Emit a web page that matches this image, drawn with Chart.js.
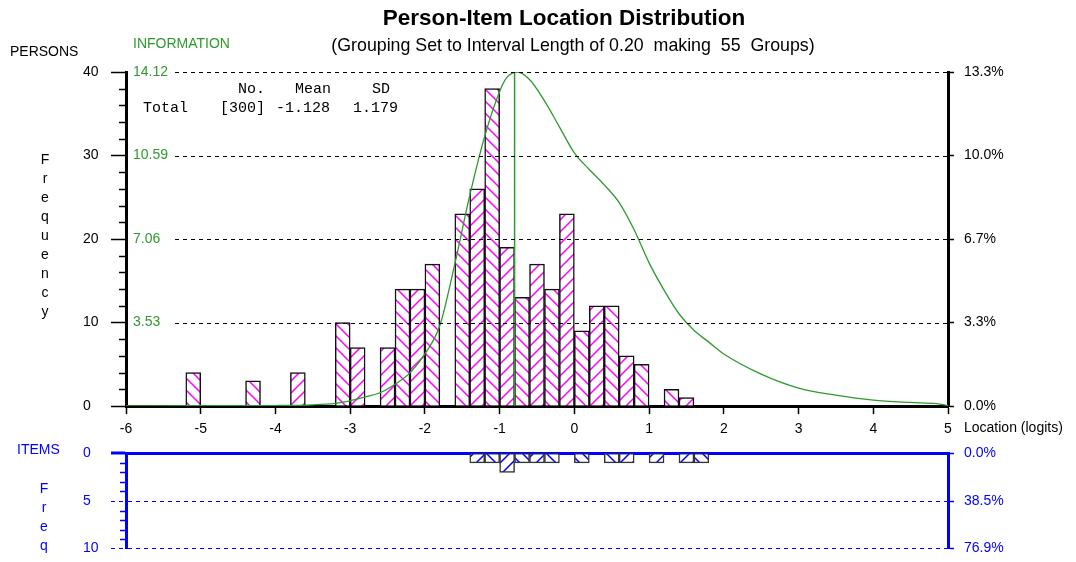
<!DOCTYPE html>
<html>
<head>
<meta charset="utf-8">
<script src="https://cdn.jsdelivr.net/npm/chart.js@4.4.1/dist/chart.umd.min.js"></script>
<style>
  html, body { margin: 0; padding: 0; background: #fff; }
  #wrap { position: relative; width: 1076px; height: 562px; overflow: hidden; }
  canvas { position: absolute; left: 0; }
  #persons { top: 0; }
  #items { top: 435px; }
</style>
</head>
<body>
<div id="wrap">
  <canvas id="persons" width="1076" height="440"></canvas>
  <canvas id="items" width="1076" height="132"></canvas>
</div>
<script>
// persons grouped in 0.2 logit intervals (bin centres) and their counts
const personLoc = [-5.1, -4.3, -3.7, -3.1, -2.9, -2.5, -2.3, -2.1, -1.9, -1.5, -1.3, -1.1,
  -0.9, -0.7, -0.5, -0.3, -0.1, 0.1, 0.3, 0.5, 0.7, 0.9, 1.3, 1.5];
const personCount = [4, 3, 4, 10, 7, 7, 14, 14, 17, 23, 26, 38,
  19, 13, 17, 14, 23, 9, 12, 12, 6, 5, 2, 1];

// items, same grouping
const itemLoc = [-1.3, -1.1, -0.9, -0.7, -0.5, -0.3, 0.1, 0.5, 0.7, 1.1, 1.5, 1.7];
const itemCount = [1, 1, 2, 1, 1, 1, 1, 1, 1, 1, 1, 1];

// test information curve
const infoLoc = [-6, -5, -4, -3.5, -3.2, -3.0, -2.8, -2.6, -2.4, -2.2, -2.0, -1.8, -1.6, -1.4,
  -1.2, -1.0, -0.9, -0.76, -0.6, -0.4, -0.2, 0, 0.2, 0.4, 0.6, 0.8, 1.0, 1.2, 1.4, 1.6, 1.8,
  2.0, 2.5, 3.0, 3.5, 4.0, 4.5, 4.85, 5.0];
const infoValue = [0, 0.01, 0.02, 0.05, 0.11, 0.22, 0.38, 0.56, 0.92, 1.4, 2.2, 3.4, 6.0, 8.9,
  11.4, 13.3, 13.9, 14.12, 13.8, 12.9, 11.8, 10.7, 10.0, 9.35, 8.6, 7.45, 6.05, 4.9, 3.9, 3.2, 2.7,
  2.2, 1.35, 0.76, 0.46, 0.25, 0.15, 0.1, 0.02];
const infoPeakLoc = -0.8;
const infoMax = 14.12;

const personTicks = [0, 10, 20, 30, 40];
const infoTicks = [3.53, 7.06, 10.59, 14.12];
const itemTicks = [0, 5, 10];
const nPersons = 300;
const nItems = 13;
const locMin = -6, locMax = 5, binWidth = 0.2;

const GREEN = '#2e9a2e';
const BLUE = '#0000ff';
Chart.defaults.font.family = '"Liberation Sans", Arial, sans-serif';
Chart.defaults.font.size = 14;
Chart.defaults.color = '#000';

function hatch(color, up) {
  const s = 12;
  const c = document.createElement('canvas');
  c.width = c.height = s;
  const g = c.getContext('2d');
  g.fillStyle = '#fff';
  g.fillRect(0, 0, s, s);
  g.strokeStyle = color;
  g.lineWidth = 1.5;
  g.beginPath();
  if (up) {
    g.moveTo(-1, s + 1); g.lineTo(s + 1, -1);
    g.moveTo(-1, 1); g.lineTo(1, -1);
    g.moveTo(s - 1, s + 1); g.lineTo(s + 1, s - 1);
  } else {
    g.moveTo(-1, -1); g.lineTo(s + 1, s + 1);
    g.moveTo(s - 1, -1); g.lineTo(s + 1, 1);
    g.moveTo(-1, s - 1); g.lineTo(1, s + 1);
  }
  g.stroke();
  return g.createPattern(c, 'repeat');
}
const pinkDown = hatch('#ff00ff', false), pinkUp = hatch('#ff00ff', true);
const blueDown = hatch(BLUE, false), blueUp = hatch(BLUE, true);

function binOf(x) { return Math.round((x - locMin) / binWidth - 0.5); }
function hatchFor(even, odd) {
  return (ctx) => (ctx.raw && binOf(ctx.raw.x) % 2 === 1 ? odd : even);
}

// small tick marks between the labelled ones
const minorTicks = {
  id: 'minorTicks',
  afterDraw(chart, args, opts) {
    const s = chart.scales[opts.axis];
    const c = chart.ctx;
    c.save();
    c.strokeStyle = opts.color;
    c.lineWidth = 1.5;
    for (let v = s.min + opts.step; v < s.max; v += opts.step) {
      if (v % opts.major === 0) continue;
      const y = Math.round(s.getPixelForValue(v)) + 0.5;
      c.beginPath();
      c.moveTo(s.right - opts.len, y);
      c.lineTo(s.right, y);
      c.stroke();
    }
    c.restore();
  }
};

// dashed grid lines, starting after the information labels
const dashGrid = {
  id: 'dashGrid',
  afterDatasetsDraw(chart) {
    const y = chart.scales.y, a = chart.chartArea, c = chart.ctx;
    c.save();
    c.setLineDash([4, 4]);
    c.strokeStyle = '#000';
    c.lineWidth = 1;
    personTicks.forEach((v) => {
      if (!v) return;
      const py = Math.round(y.getPixelForValue(v)) + 0.5;
      c.beginPath();
      c.moveTo(a.left + 49, py);
      c.lineTo(a.right, py);
      c.stroke();
    });
    c.restore();
  }
};

function txt(c, s, x, y, font, color, align) {
  c.font = font;
  c.fillStyle = color;
  c.textAlign = align || 'left';
  c.textBaseline = 'middle';
  c.fillText(s, x, y);
}

const personsText = {
  id: 'personsText',
  afterDraw(chart) {
    const c = chart.ctx;
    const sans = '"Liberation Sans", Arial, sans-serif';
    const mono = '15px "Liberation Mono", "Courier New", monospace';
    c.save();
    txt(c, 'Person-Item Location Distribution', 564, 19, 'bold 22.5px ' + sans, '#000', 'center');
    txt(c, '(Grouping Set to Interval Length of 0.20  making  55  Groups)', 573, 46, '17.8px ' + sans, '#000', 'center');
    txt(c, 'PERSONS', 10, 52, '14px ' + sans, '#000');
    txt(c, 'INFORMATION', 133, 44, '14px ' + sans, GREEN);
    'Frequency'.split('').forEach((ch, i) => txt(c, ch, 45, 160 + i * 19, '14px ' + sans, '#000', 'center'));
    txt(c, 'No.', 238, 89, mono, '#000');
    txt(c, 'Mean', 295, 89, mono, '#000');
    txt(c, 'SD', 372, 89, mono, '#000');
    txt(c, 'Total', 143, 108, mono, '#000');
    txt(c, '[' + nPersons + ']', 220, 108, mono, '#000');
    txt(c, '-1.128', 276, 108, mono, '#000');
    txt(c, '1.179', 353, 108, mono, '#000');
    txt(c, 'Location (logits)', 964, 428, '14px ' + sans, '#000');
    c.restore();
  }
};

const itemsText = {
  id: 'itemsText',
  afterDraw(chart) {
    const c = chart.ctx;
    const f = '14px "Liberation Sans", Arial, sans-serif';
    c.save();
    txt(c, 'ITEMS', 17, 15, f, BLUE);
    'Freq'.split('').forEach((ch, i) => txt(c, ch, 44, 54 + i * 19, f, BLUE, 'center'));
    c.restore();
  }
};

const fixedTicks = (arr) => (s) => { s.ticks = arr.map((v) => ({ value: v })); };

new Chart(document.getElementById('persons'), {
  type: 'bar',
  data: {
    datasets: [
      {
        type: 'line',
        data: infoLoc.map((x, i) => ({ x, y: infoValue[i] })),
        yAxisID: 'info',
        borderColor: GREEN,
        borderWidth: 1.3,
        pointRadius: 0,
        cubicInterpolationMode: 'monotone',
        order: 1,
      },
      {
        type: 'line',
        data: [{ x: infoPeakLoc, y: 0 }, { x: infoPeakLoc, y: infoMax }],
        yAxisID: 'info',
        borderColor: GREEN,
        borderWidth: 1.5,
        pointRadius: 0,
        order: 1,
      },
      {
        data: personLoc.map((x, i) => ({ x, y: personCount[i] })),
        yAxisID: 'y',
        backgroundColor: hatchFor(pinkDown, pinkUp),
        borderColor: '#111',
        borderWidth: 1.5,
        barPercentage: 1,
        categoryPercentage: 1,
        order: 2,
      },
    ],
  },
  options: {
    responsive: false,
    animation: false,
    devicePixelRatio: 1,
    layout: { padding: { left: 83, top: 72, right: 0, bottom: 0 } },
    plugins: { legend: { display: false }, tooltip: { enabled: false },
      minorTicks: { axis: 'y', step: 2, major: 10, len: 7, color: '#000' } },
    scales: {
      x: {
        type: 'linear', position: 'bottom', min: locMin, max: locMax, offset: false,
        ticks: { stepSize: 1, padding: 7, color: '#000' },
        grid: { drawOnChartArea: false, offset: false, tickLength: 8, color: '#000', tickWidth: 1.5 },
        border: { color: '#000', width: 3 },
        afterFit: (s) => { s.height = 34; },
      },
      y: {
        position: 'left', weight: 1, min: 0, max: 40,
        afterBuildTicks: fixedTicks(personTicks),
        ticks: { crossAlign: 'far', color: '#000' },
        grid: { drawOnChartArea: false, tickLength: 15, color: '#000', tickWidth: 1.5 },
        border: { color: '#000', width: 3 },
        afterFit: (s) => { s.width = 43; },
      },
      info: {
        position: 'left', weight: 0, min: 0, max: infoMax,
        afterBuildTicks: fixedTicks(infoTicks),
        ticks: { mirror: true, padding: 7, color: GREEN, callback: (v) => v.toFixed(2) },
        grid: { display: false },
        border: { display: false },
        afterFit: (s) => { s.width = 0; },
      },
      pct: {
        position: 'right', min: 0, max: 40,
        afterBuildTicks: fixedTicks(personTicks),
        ticks: { padding: 10, color: '#000', callback: (v) => (v / nPersons * 100).toFixed(1) + '%' },
        grid: { drawOnChartArea: false, tickLength: 6, color: '#000', tickWidth: 1.5 },
        border: { color: '#000', width: 3 },
        afterFit: (s) => { s.width = 128; },
      },
    },
  },
  plugins: [minorTicks, dashGrid, personsText],
});

const isZero = (c) => c.tick && c.tick.value === 0;

new Chart(document.getElementById('items'), {
  type: 'bar',
  data: {
    datasets: [{
      data: itemLoc.map((x, i) => ({ x, y: itemCount[i] })),
      yAxisID: 'iy',
      backgroundColor: hatchFor(blueDown, blueUp),
      borderColor: '#333',
      borderWidth: 1.5,
      borderSkipped: false,
      barPercentage: 1,
      categoryPercentage: 1,
    }],
  },
  options: {
    responsive: false,
    animation: false,
    devicePixelRatio: 1,
    layout: { padding: { left: 83, top: 18, right: 0, bottom: 18 } },
    plugins: { legend: { display: false }, tooltip: { enabled: false },
      minorTicks: { axis: 'iy', step: 1, major: 5, len: 6, color: BLUE } },
    scales: {
      x: {
        type: 'linear', position: 'top', min: locMin, max: locMax, offset: false,
        ticks: { display: false },
        grid: { display: false, offset: false },
        border: { color: BLUE, width: 3 },
        afterFit: (s) => { s.height = 0; },
      },
      iy: {
        position: 'left', reverse: true, min: 0, max: 10,
        afterBuildTicks: fixedTicks(itemTicks),
        ticks: { crossAlign: 'far', color: BLUE },
        grid: {
          color: BLUE, tickColor: BLUE, tickLength: 15,
          lineWidth: (c) => (isZero(c) ? 0 : 1),
          tickWidth: (c) => (isZero(c) ? 3 : 1),
          tickBorderDash: (c) => (isZero(c) ? [] : [4, 4]),
        },
        border: { color: BLUE, width: 3, dash: [4, 4] },
        afterFit: (s) => { s.width = 43; },
      },
      ipct: {
        position: 'right', reverse: true, min: 0, max: 10,
        afterBuildTicks: fixedTicks(itemTicks),
        ticks: { padding: 10, color: BLUE, callback: (v) => (v / nItems * 100).toFixed(1) + '%' },
        grid: { drawOnChartArea: false, tickLength: 6, color: BLUE, tickWidth: 1.5 },
        border: { color: BLUE, width: 3 },
        afterFit: (s) => { s.width = 128; },
      },
    },
  },
  plugins: [minorTicks, itemsText],
});
</script>
</body>
</html>
